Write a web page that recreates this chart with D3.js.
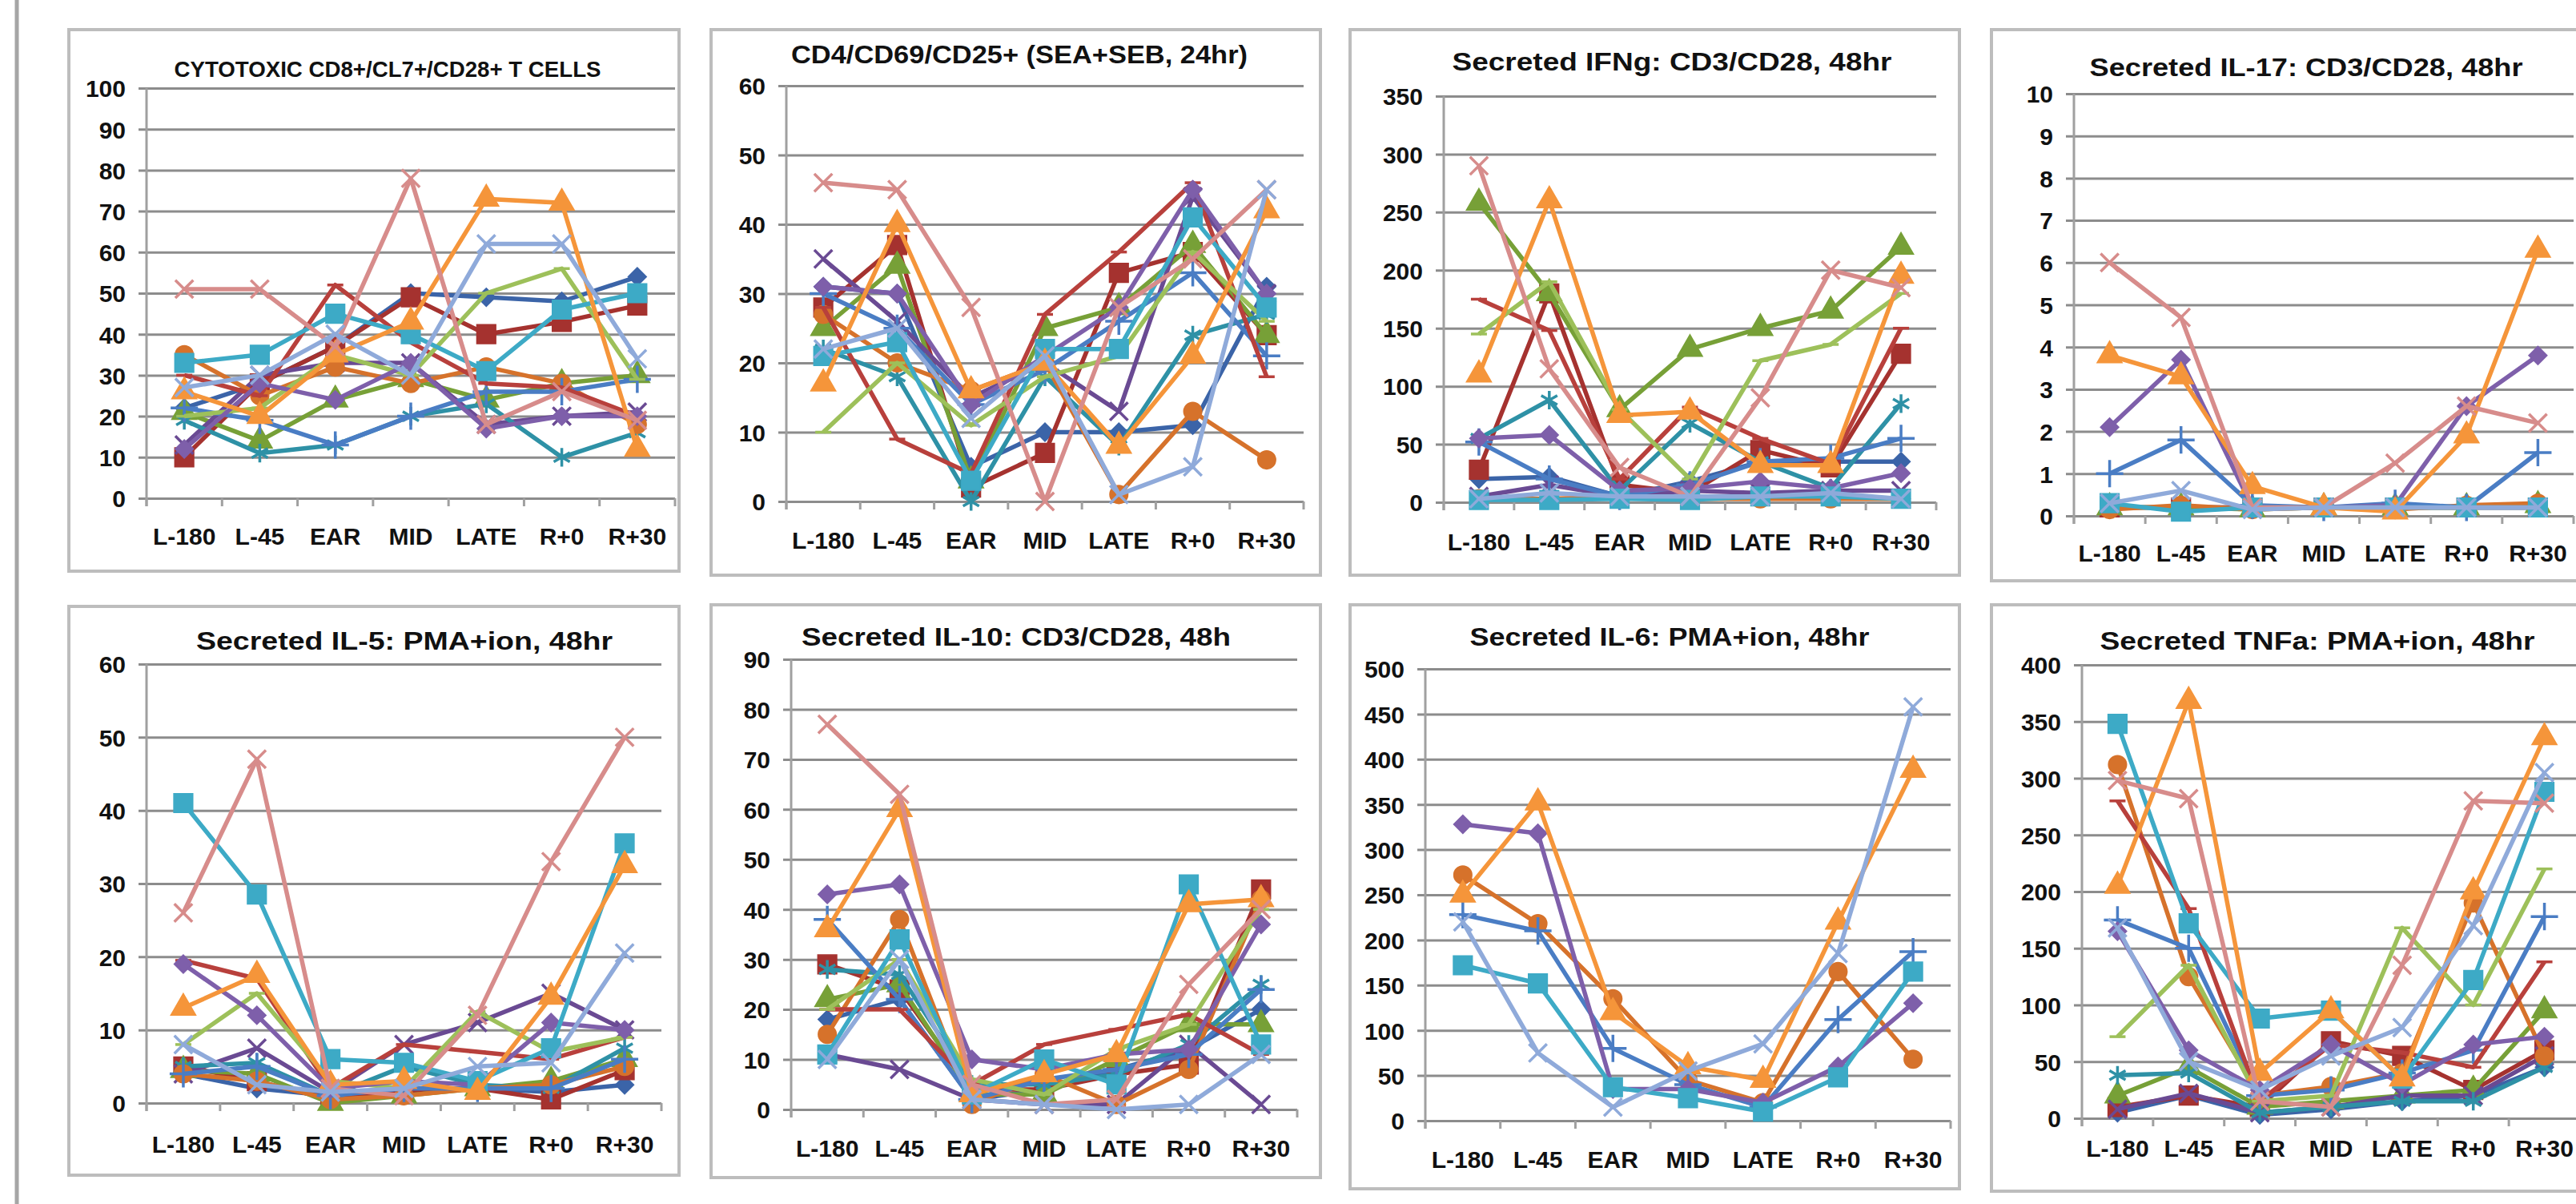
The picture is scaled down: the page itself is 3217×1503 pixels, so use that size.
<!DOCTYPE html>
<html>
<head>
<meta charset="utf-8">
<script src="https://cdn.jsdelivr.net/npm/d3@7"></script>
<style>
  body { margin: 0; background: #fff; }
  text { font-family: "Liberation Sans", Arial, sans-serif; font-weight: bold; fill: #111; }
</style>
</head>
<body>
<div id="viz"></div>
<script>
// categories along the x axis (same for every panel)
const categories = ["L-180", "L-45", "EAR", "MID", "LATE", "R+0", "R+30"];

// one colour + marker per subject, same order in every panel
const seriesColors = ["#3B64A8", "#A5322F", "#77A037", "#6A4A93", "#2E91A6", "#D6722B", "#4A7DC4",
  "#B8403C", "#9DC05A", "#7E5FAA", "#3DAAC6", "#F5953A", "#D78C8B", "#8FAADA"];
const seriesMarkers = ["diamond", "square", "triangle", "x", "star", "circle", "plus",
  "dash", "dash", "diamond", "square", "triangle", "x", "x"];

// values (null = series not shown in that panel)
const cd8Values = [
  [22, 28, 37, 50, 49, 48, 54],
  [10, 28, 37, 49, 40, 43, 47],
  [21, 14, 24, 29, 24, 28, 30],
  [13, 30, 33, 33, 18, 20, 21],
  [19, 11, 13, 20, 23, 10, 16],
  [35, 25, 32, 28, 32, 28, 18],
  [22, 19, 13, 20, 26, 26, 29],
  [30, 25, 52, 38, 28, 27, 20],
  [20, 22, 35, 30, 50, 56, 29],
  [12, 28, 24, 33, 17, 20, 20],
  [33, 35, 45, 40, 31, 46, 50],
  [26, 20, 35, 43, 73, 72, 12],
  [51, 51, 37, 78, 18, 26, 19],
  [27, 30, 40, 30, 62, 62, 34]
];
const cd4Values = [
  [31, 30, 5, 10, 10, 11, 31],
  [28, 37, 2, 7, 33, 36, 24],
  [25, 34, 3, 25, 28, 37, 24],
  [35, 26, 15, 20, 13, 44, 30],
  [22, 18, 0, 18, 8, 24, 27],
  [27, 20, 16, 20, 1, 13, 6],
  [30, 25, 14, 19, 26, 33, 21],
  [28, 9, 4, 27, 36, 46, 18],
  [10, 20, 11, 18, 21, 36, 26],
  [31, 30, 14, 21, 28, 45, 30],
  [21, 23, 3, 22, 22, 41, 28],
  [17, 40, 16, 20, 8, 21, 42],
  [46, 45, 28, 0, 28, 35, 45],
  [22, 25, 12, 21, 1, 5, 45]
];
const ifngValues = [
  [20, 22, 5, 18, 35, 35, 35],
  [28, 180, 15, 8, 45, 30, 128],
  [258, 180, 80, 132, 150, 165, 220],
  [5, 15, 5, 10, 8, 10, 10],
  [55, 88, 10, 68, 35, 12, 85],
  [3, 3, 5, 3, 3, 3, 3],
  [52, 20, 5, 15, 35, 38, 55],
  [175, 148, 20, 82, 55, 33, 150],
  [145, 190, 80, 20, 122, 136, 180],
  [55, 58, 10, 12, 18, 12, 25],
  [2, 2, 3, 2, 5, 5, 3],
  [110, 260, 75, 78, 32, 32, 195],
  [290, 115, 30, 5, 90, 200, 185],
  [3, 8, 5, 5, 5, 8, 3]
];
const il17Values = [
  [0.2, 0.2, 0.2, 0.2, 0.2, 0.2, 0.2],
  [0.2, 0.2, 0.2, 0.2, 0.2, 0.2, 0.2],
  [0.2, 0.2, 0.15, 0.2, 0.2, 0.2, 0.25],
  null,
  null,
  [0.15, 0.25, 0.15, 0.2, 0.15, 0.25, 0.3],
  [1.0, 1.8, 0.25, 0.2, 0.3, 0.2, 1.5],
  null,
  null,
  [2.1, 3.7, 0.2, 0.2, 0.25, 2.6, 3.8],
  [0.3, 0.1, 0.2, 0.2, 0.2, 0.2, 0.2],
  [3.8, 3.3, 0.7, 0.2, 0.1, 1.9, 6.3],
  [6.0, 4.7, 0.2, 0.2, 1.25, 2.6, 2.2],
  [0.3, 0.6, 0.15, 0.2, 0.2, 0.2, 0.2]
];
const il5Values = [
  [4, 2, 1, 1.5, 2, 1.5, 2.5],
  [5, 3, 0.5, 1.5, 2, 0.5, 4.5],
  [4.5, 4, 0, 1, 2, 3, 6],
  [4, 7.5, 1.5, 8, 11, 15, 10],
  [5, 5.5, 1, 5, 2.5, 2, 7.5],
  [4, 3, 0.5, 1, 2, 2.5, 5],
  [4, 5, 1, 2, 2, 2, 6],
  [19.5, 17, 2, 8, 7, 6, 9],
  [8, 15, 3, 2, 12.5, 7, 9],
  [19, 12, 2, 3, 2.5, 11, 10],
  [41, 28.5, 6, 5.5, 3, 7.5, 35.5],
  [13, 17.5, 2.5, 3, 1.5, 14.5, 32.5],
  [26, 47, 2, 1, 12, 33, 50],
  [8, 2.5, 1.5, 2, 5, 5.5, 20.5]
];
const il10Values = [
  [18, 22, 2, 4, 8, 12, 20],
  [29, 24, 4, 4, 7, 9, 44],
  [22, 25, 3, 3, 10, 17, 17],
  [11, 8, 2, 1, 1, 13, 1],
  [28, 27, 5, 5, 7, 13, 25],
  [15, 38, 1, 7, 1, 8, 42],
  [38, 22, 2, 6, 8, 11, 24],
  [20, 20, 5, 13, 16, 19, 11],
  [20, 30, 6, 3, 12, 17, 40],
  [43, 45, 10, 8, 11, 12, 37],
  [11, 34, 3, 10, 5, 45, 13],
  [36, 60, 3, 7, 11, 41, 42],
  [77, 63, 5, 1, 2, 25, 40],
  [10, 30, 2, 1, 0, 1, 11]
];
const il6Values = [
  null, null, null, null, null,
  [272, 218, 135, 45, 20, 165, 68],
  [228, 210, 80, 40, 15, 112, 187],
  null, null,
  [328, 318, 35, 35, 20, 60, 130],
  [172, 152, 37, 25, 10, 48, 165],
  [250, 352, 120, 60, 45, 220, 388],
  null,
  [220, 75, 15, 55, 85, 185, 458]
];
const tnfaValues = [
  [5, 20, 3, 8, 15, 20, 45],
  [10, 20, 10, 68, 55, 25, 60],
  [20, 45, 10, 15, 20, 25, 95],
  [8, 22, 5, 10, 20, 20, 55],
  [38, 40, 5, 10, 15, 15, 45],
  [312, 125, 20, 28, 40, 190, 55],
  [175, 150, 20, 25, 40, 60, 178],
  [280, 185, 15, 65, 58, 45, 138],
  [72, 135, 15, 20, 168, 100, 220],
  [165, 60, 25, 65, 30, 65, 72],
  [348, 172, 88, 95, 35, 122, 288],
  [205, 368, 40, 95, 35, 200, 336],
  [298, 282, 15, 10, 135, 280, 278],
  [168, 50, 25, 55, 80, 170, 305]
];

const titles = ["CYTOTOXIC CD8+/CL7+/CD28+ T CELLS", "CD4/CD69/CD25+  (SEA+SEB, 24hr)",
  "Secreted IFNg:  CD3/CD28, 48hr", "Secreted IL-17:  CD3/CD28, 48hr",
  "Secreted IL-5:  PMA+ion, 48hr", "Secreted IL-10:  CD3/CD28, 48h",
  "Secreted IL-6:  PMA+ion, 48hr", "Secreted TNFa:  PMA+ion, 48hr"];
const panelValues = [cd8Values, cd4Values, ifngValues, il17Values, il5Values, il10Values, il6Values, tnfaValues];
const axisMax = [100, 60, 350, 10, 60, 90, 500, 400];
const axisStep = [10, 10, 50, 1, 10, 10, 50, 50];

// layout of each panel on the page (px): box, plot [left, top, right, bottom], title centre/width, label row
const layout = [
  { box: [86, 37, 848, 713], plot: [183, 110, 843, 622], tx: 484, ty: 89, tw: 533, tsz: 27, ly: 672 },
  { box: [888, 37, 1649, 718], plot: [982, 107, 1628, 626], tx: 1273, ty: 71, tw: 570, tsz: 31, ly: 677 },
  { box: [1686, 37, 2447, 718], plot: [1803, 120, 2418, 627], tx: 2088, ty: 80, tw: 549, tsz: 31, ly: 679 },
  { box: [2487, 37, 3240, 725], plot: [2590, 117, 3214, 644], tx: 2880, ty: 87, tw: 541, tsz: 31, ly: 693 },
  { box: [86, 757, 848, 1467], plot: [183, 829, 826, 1377], tx: 505, ty: 803, tw: 520, tsz: 31, ly: 1431 },
  { box: [888, 755, 1649, 1470], plot: [988, 823, 1620, 1385], tx: 1269, ty: 798, tw: 536, tsz: 31, ly: 1436 },
  { box: [1686, 755, 2447, 1484], plot: [1780, 835, 2436, 1399], tx: 2085, ty: 798, tw: 499, tsz: 31, ly: 1450 },
  { box: [2487, 755, 3240, 1487], plot: [2600, 830, 3222, 1396], tx: 2894, ty: 803, tw: 543, tsz: 31, ly: 1436 }
];

const W = 3217, H = 1503;
const svg = d3.select("#viz").append("svg").attr("width", W).attr("height", H);
svg.append("rect").attr("width", W).attr("height", H).attr("fill", "#fff");

// page edge on the left
svg.append("line").attr("x1", 21).attr("x2", 21).attr("y1", 0).attr("y2", H)
  .attr("stroke", "#a6a6a6").attr("stroke-width", 5);

const symbolFor = {
  diamond: d3.symbol().type(d3.symbolSquare).size(260),
  square: d3.symbol().type(d3.symbolSquare).size(560),
  triangle: d3.symbol().type(d3.symbolTriangle).size(420),
  x: d3.symbol().type(d3.symbolTimes).size(330),
  star: d3.symbol().type(d3.symbolAsterisk).size(380),
  circle: d3.symbol().type(d3.symbolCircle).size(400),
  plus: d3.symbol().type(d3.symbolPlus).size(380)
};
const strokeOnly = new Set(["x", "star", "plus", "dash"]);

panelValues.forEach((values, p) => {
  const L = layout[p];
  const [left, top, right, bottom] = L.plot;
  const g = svg.append("g");

  g.append("rect")
    .attr("x", L.box[0]).attr("y", L.box[1])
    .attr("width", L.box[2] - L.box[0]).attr("height", L.box[3] - L.box[1])
    .attr("fill", "#fff").attr("stroke", "#bdbdbd").attr("stroke-width", 4);

  const x = d3.scaleBand().domain(categories).range([left, right]);
  const y = d3.scaleLinear().domain([0, axisMax[p]]).range([bottom, top]);
  const ticks = d3.range(0, axisMax[p] + axisStep[p] / 2, axisStep[p]);

  // gridlines + y labels
  const yAxis = g.append("g")
    .attr("transform", `translate(${left},0)`)
    .call(d3.axisLeft(y).tickValues(ticks).tickSize(-(right - left)).tickPadding(26)
      .tickFormat(d3.format("d")));
  yAxis.select(".domain").remove();
  yAxis.selectAll(".tick line").attr("x1", -10).attr("stroke", "#8c8c8c").attr("stroke-width", 3);
  yAxis.selectAll(".tick text").attr("font-size", 30).attr("fill", "#111")
    .attr("font-family", null).attr("dy", "0.36em");

  // vertical axis line
  g.append("line").attr("x1", left).attr("x2", left).attr("y1", top).attr("y2", bottom + 10)
    .attr("stroke", "#a0a0a0").attr("stroke-width", 3);

  // category boundary ticks under the axis
  g.selectAll(".xtick").data(d3.range(categories.length + 1)).enter().append("line")
    .attr("x1", i => left + i * x.bandwidth()).attr("x2", i => left + i * x.bandwidth())
    .attr("y1", bottom).attr("y2", bottom + 10)
    .attr("stroke", "#a0a0a0").attr("stroke-width", 3);

  // category labels
  g.selectAll(".xlab").data(categories).enter().append("text")
    .attr("x", d => x(d) + x.bandwidth() / 2).attr("y", L.ly)
    .attr("text-anchor", "middle").attr("dominant-baseline", "middle")
    .attr("font-size", 30).text(d => d);

  // title
  g.append("text").attr("x", L.tx).attr("y", L.ty)
    .attr("text-anchor", "middle").attr("dominant-baseline", "middle")
    .attr("font-size", L.tsz).attr("textLength", L.tw).attr("lengthAdjust", "spacingAndGlyphs")
    .text(titles[p]);

  const line = d3.line()
    .x((d, i) => x(categories[i]) + x.bandwidth() / 2)
    .y(d => y(d));

  values.forEach((vals, s) => {
    if (!vals) return;
    const col = seriesColors[s];
    const mk = seriesMarkers[s];
    const sg = g.append("g");
    sg.append("path").datum(vals).attr("d", line)
      .attr("fill", "none").attr("stroke", col).attr("stroke-width", 5.5)
      .attr("stroke-linejoin", "round");
    sg.selectAll("path.mk").data(vals).enter().append("path")
      .attr("class", "mk")
      .attr("transform", (d, i) => {
        const px = x(categories[i]) + x.bandwidth() / 2;
        return `translate(${px},${y(d)})` + (mk === "diamond" ? " rotate(45)" : "");
      })
      .attr("d", mk === "dash" ? "M-10,0H10" : symbolFor[mk]())
      .attr("fill", strokeOnly.has(mk) ? "none" : col)
      .attr("stroke", col)
      .attr("stroke-width", strokeOnly.has(mk) ? 3.5 : 1.5);
  });
});
</script>
</body>
</html>
